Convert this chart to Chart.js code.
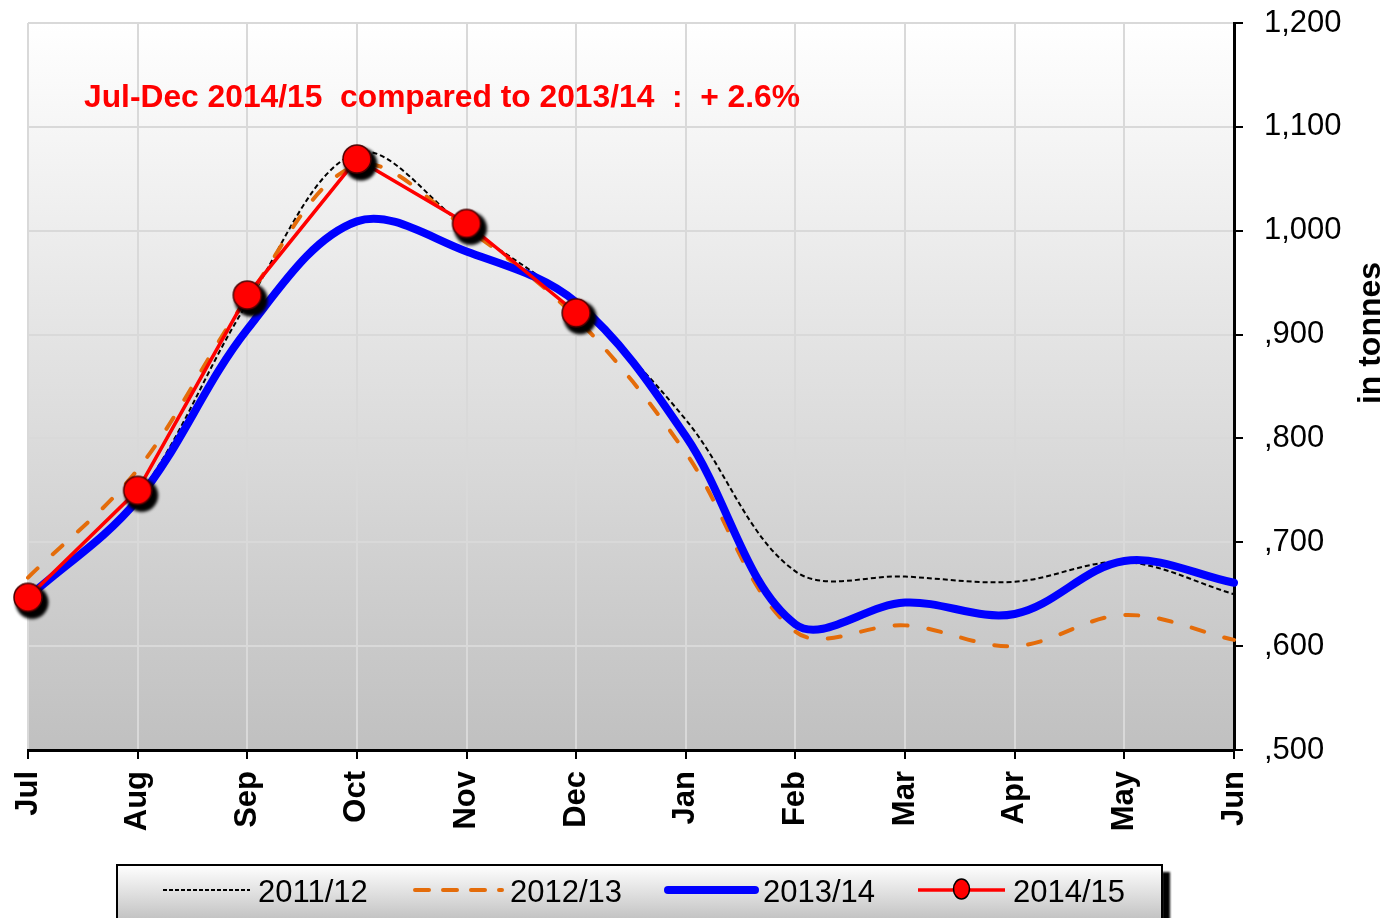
<!DOCTYPE html>
<html>
<head>
<meta charset="utf-8">
<script src="https://cdn.jsdelivr.net/npm/chart.js@4.4.1/dist/chart.umd.min.js"></script>
<style>
  html, body { margin: 0; padding: 0; background: #ffffff; }
  canvas { display: block; }
</style>
</head>
<body>
<canvas id="chart" width="1393" height="918"></canvas>
<script>
// Monthly volumes (tonnes), marketing year July to June
const months = ['Jul', 'Aug', 'Sep', 'Oct', 'Nov', 'Dec', 'Jan', 'Feb', 'Mar', 'Apr', 'May', 'Jun'];
const seasonLabels = ['2011/12', '2012/13', '2013/14', '2014/15'];
const season2011 = [648, 744, 930, 1075, 1003, 928, 818, 672, 667, 662, 681, 650];
const season2012 = [666, 770, 935, 1063, 1002, 916, 786, 614, 620, 600, 630, 606];
const season2013 = [647, 741, 905, 1009, 980, 931, 802, 621, 642, 631, 682, 661];
const season2014 = [647, 750, 938, 1069, 1007, 921];

const valueTicks = [500, 600, 700, 800, 900, 1000, 1100, 1200];
const valueTickLabels = [',500', ',600', ',700', ',800', ',900', '1,000', '1,100', '1,200'];

const noteText = 'Jul-Dec 2014/15  compared to 2013/14  :  + 2.6%';
const axisTitle = 'in tonnes';

const SANS = '"Liberation Sans", Arial, sans-serif';

// Round red marker with a soft black drop shadow, pre-rendered once
function makeMarker(r) {
  const pad = 14;
  const size = 2 * (r + pad);
  const cv = document.createElement('canvas');
  cv.width = size; cv.height = size;
  const g = cv.getContext('2d');
  const c = size / 2;
  // shadow disc
  g.save();
  g.filter = 'blur(1.5px)';
  g.beginPath();
  g.arc(c + 4, c + 5, r + 2.5, 0, Math.PI * 2);
  g.fillStyle = '#000000';
  g.fill();
  g.restore();
  // marker
  g.beginPath();
  g.arc(c, c, r, 0, Math.PI * 2);
  g.fillStyle = '#ff0000';
  g.fill();
  g.lineWidth = 1.5;
  g.strokeStyle = '#4a0000';
  g.stroke();
  return cv;
}
const bigMarker = makeMarker(14);

// Plot-area gradient fill
const plotBackground = {
  id: 'plotBackground',
  beforeDraw(chart) {
    const { ctx, chartArea: a } = chart;
    const grad = ctx.createLinearGradient(0, a.top, 0, a.bottom);
    grad.addColorStop(0, '#ffffff');
    grad.addColorStop(1, '#c0c0c0');
    ctx.save();
    ctx.fillStyle = grad;
    ctx.fillRect(a.left, a.top, a.right - a.left, a.bottom - a.top);
    ctx.restore();
  }
};

// Note, axis title and boxed legend
const decorations = {
  id: 'decorations',
  afterDraw(chart) {
    const ctx = chart.ctx;
    ctx.save();

    // red note
    ctx.font = 'bold 32px ' + SANS;
    ctx.fillStyle = '#ff0000';
    ctx.textBaseline = 'middle';
    ctx.textAlign = 'left';
    const w = ctx.measureText(noteText).width;
    ctx.save();
    ctx.translate(84, 98);
    ctx.scale(716 / w, 1);
    ctx.fillText(noteText, 0, 0);
    ctx.restore();

    // value axis title, reading upwards
    ctx.save();
    ctx.translate(1371, 333);
    ctx.rotate(-Math.PI / 2);
    ctx.font = 'bold 32px ' + SANS;
    ctx.fillStyle = '#000000';
    ctx.textAlign = 'center';
    ctx.textBaseline = 'middle';
    ctx.fillText(axisTitle, 0, 0);
    ctx.restore();

    // legend box with shadow
    const bx = 117, by = 865, bw = 1045, bh = 70;
    ctx.save();
    ctx.fillStyle = '#000000';
    ctx.filter = 'blur(1px)';
    ctx.fillRect(bx + bw, by + 7, 8, bh);
    ctx.restore();
    const lg = ctx.createLinearGradient(0, by, 0, 918);
    lg.addColorStop(0, '#ffffff');
    lg.addColorStop(1, '#c4c4c4');
    ctx.fillStyle = lg;
    ctx.fillRect(bx, by, bw, bh);
    ctx.lineWidth = 2;
    ctx.strokeStyle = '#000000';
    ctx.strokeRect(bx, by, bw, bh);

    const sampleX = [163, 415, 668, 918];
    const ly = 890;
    chart.data.datasets.forEach((ds, i) => {
      const x0 = sampleX[i], x1 = x0 + 87;
      ctx.save();
      ctx.strokeStyle = ds.borderColor;
      ctx.lineWidth = ds.borderWidth;
      ctx.lineCap = ds.borderCapStyle || 'butt';
      ctx.setLineDash(ds.legendDash || []);
      ctx.beginPath();
      ctx.moveTo(x0, ly);
      ctx.lineTo(x1, ly);
      ctx.stroke();
      if (ds.pointRadius > 0) {
        ctx.setLineDash([]);
        ctx.beginPath();
        ctx.ellipse((x0 + x1) / 2, ly - 1, 8, 10, 0, 0, Math.PI * 2);
        ctx.fillStyle = '#ff0000';
        ctx.fill();
        ctx.lineWidth = 1.5;
        ctx.strokeStyle = '#000000';
        ctx.stroke();
      }
      ctx.restore();
      ctx.font = '31px ' + SANS;
      ctx.fillStyle = '#000000';
      ctx.textAlign = 'left';
      ctx.textBaseline = 'middle';
      ctx.fillText(ds.label, x1 + 8, 893);
    });

    ctx.restore();
  }
};

const gridColor = '#d9d9d9';

new Chart(document.getElementById('chart'), {
  type: 'line',
  data: {
    labels: months,
    datasets: [
      {
        label: seasonLabels[0], data: season2011,
        borderColor: '#000000', borderWidth: 2, borderDash: [5, 3], legendDash: [4, 2],
        tension: 0.35, pointRadius: 0, fill: false, order: 3
      },
      {
        label: seasonLabels[1], data: season2012,
        borderColor: '#e46c0a', borderWidth: 4, borderDash: [13, 21], borderCapStyle: 'round', legendDash: [14, 14],
        tension: 0.35, pointRadius: 0, fill: false, order: 2
      },
      {
        label: seasonLabels[2], data: season2013,
        borderColor: '#0000ff', borderWidth: 8, borderCapStyle: 'round',
        tension: 0.35, pointRadius: 0, fill: false, order: 1
      },
      {
        label: seasonLabels[3], data: season2014,
        borderColor: '#ff0000', borderWidth: 3.5,
        tension: 0, pointStyle: bigMarker, pointRadius: 14, pointHoverRadius: 14,
        fill: false, order: 0, clip: false
      }
    ]
  },
  options: {
    responsive: false,
    devicePixelRatio: 1,
    animation: false,
    events: [],
    layout: { padding: { left: 28, top: 23, right: 0, bottom: 0 } },
    plugins: {
      legend: { display: false },
      tooltip: { enabled: false }
    },
    scales: {
      x: {
        type: 'category',
        offset: false,
        grid: { color: gridColor, lineWidth: 2, drawTicks: true, tickLength: 9, tickColor: '#000000', tickWidth: 2 },
        border: { display: true, color: '#000000', width: 3 },
        ticks: {
          autoSkip: false, minRotation: 90, maxRotation: 90, padding: 12,
          color: '#000000', font: { family: SANS, size: 31, weight: 'bold' }
        },
        afterFit(scale) {
          scale.height = 168;
          scale.paddingLeft = 0;
          scale.paddingRight = 0;
        }
      },
      y: {
        position: 'right',
        min: valueTicks[0],
        max: valueTicks[valueTicks.length - 1],
        afterBuildTicks(scale) {
          scale.ticks = valueTicks.map(v => ({ value: v }));
        },
        grid: { color: gridColor, lineWidth: 2, drawTicks: true, tickLength: 9, tickColor: '#000000', tickWidth: 2 },
        border: { display: true, color: '#000000', width: 3 },
        ticks: {
          padding: 21, color: '#000000', font: { family: SANS, size: 31 },
          callback(value) {
            const i = valueTicks.indexOf(value);
            return i >= 0 ? valueTickLabels[i] : '';
          }
        },
        afterFit(scale) {
          scale.width = 159;
          scale.paddingTop = 0;
          scale.paddingBottom = 0;
        }
      }
    }
  },
  plugins: [plotBackground, decorations]
});
</script>
</body>
</html>
